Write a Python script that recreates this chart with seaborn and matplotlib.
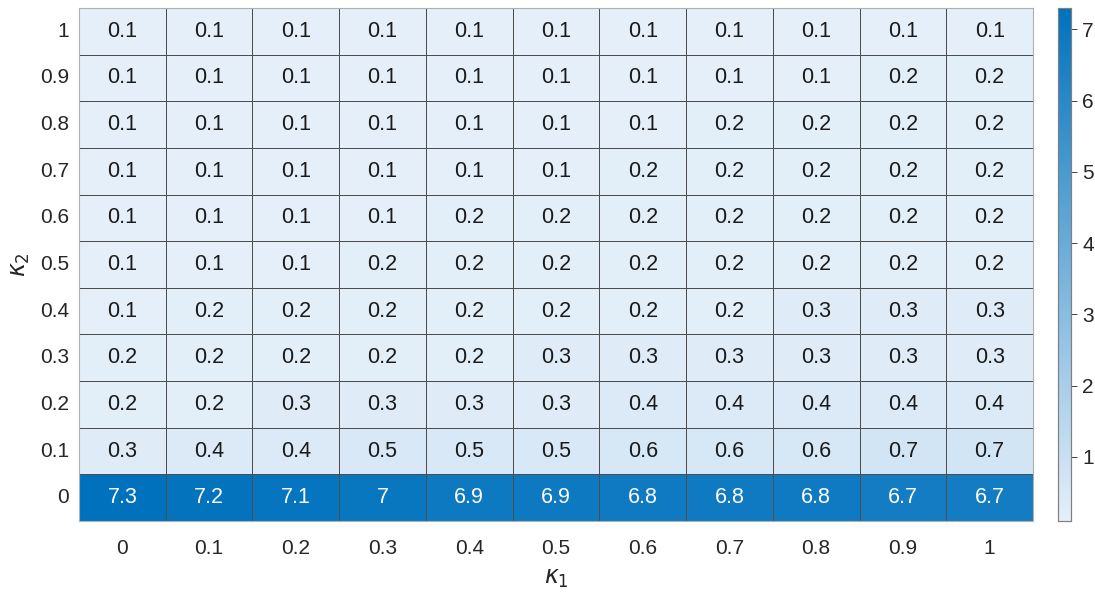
import numpy as np
import pandas as pd
import matplotlib
matplotlib.use("Agg")
import matplotlib.pyplot as plt
from matplotlib.colors import LinearSegmentedColormap
import seaborn as sns

kappa1 = ["0", "0.1", "0.2", "0.3", "0.4", "0.5", "0.6", "0.7", "0.8", "0.9", "1"]
kappa2 = ["1", "0.9", "0.8", "0.7", "0.6", "0.5", "0.4", "0.3", "0.2", "0.1", "0"]

row_k2_1 = [0.1, 0.1, 0.1, 0.1, 0.1, 0.1, 0.1, 0.1, 0.1, 0.1, 0.1]
row_k2_09 = [0.1, 0.1, 0.1, 0.1, 0.1, 0.1, 0.1, 0.1, 0.1, 0.2, 0.2]
row_k2_08 = [0.1, 0.1, 0.1, 0.1, 0.1, 0.1, 0.1, 0.2, 0.2, 0.2, 0.2]
row_k2_07 = [0.1, 0.1, 0.1, 0.1, 0.1, 0.1, 0.2, 0.2, 0.2, 0.2, 0.2]
row_k2_06 = [0.1, 0.1, 0.1, 0.1, 0.2, 0.2, 0.2, 0.2, 0.2, 0.2, 0.2]
row_k2_05 = [0.1, 0.1, 0.1, 0.2, 0.2, 0.2, 0.2, 0.2, 0.2, 0.2, 0.2]
row_k2_04 = [0.1, 0.2, 0.2, 0.2, 0.2, 0.2, 0.2, 0.2, 0.3, 0.3, 0.3]
row_k2_03 = [0.2, 0.2, 0.2, 0.2, 0.2, 0.3, 0.3, 0.3, 0.3, 0.3, 0.3]
row_k2_02 = [0.2, 0.2, 0.3, 0.3, 0.3, 0.3, 0.4, 0.4, 0.4, 0.4, 0.4]
row_k2_01 = [0.3, 0.4, 0.4, 0.5, 0.5, 0.5, 0.6, 0.6, 0.6, 0.7, 0.7]
row_k2_0 = [7.3, 7.2, 7.1, 7.0, 6.9, 6.9, 6.8, 6.8, 6.8, 6.7, 6.7]

rows = [row_k2_1, row_k2_09, row_k2_08, row_k2_07, row_k2_06, row_k2_05,
        row_k2_04, row_k2_03, row_k2_02, row_k2_01, row_k2_0]
df = pd.DataFrame(rows, index=kappa2, columns=kappa1)
labels = df.map(lambda v: f"{v:g}")

sns.set_theme(style="white")
plt.rcParams['font.family'] = ['Liberation Sans', 'DejaVu Sans']
plt.rcParams['mathtext.fontset'] = 'dejavusans'

cmap = LinearSegmentedColormap.from_list("mblue", ["#E5EFF9", "#0072BD"])

fig = plt.figure(figsize=(10.95, 5.99), dpi=100)
W, H = 1095, 599
ax = fig.add_axes([79 / W, 1 - 521 / H, (1033 - 79) / W, (521 - 8) / H])
cax = fig.add_axes([1058 / W, 1 - 521 / H, (1071 - 1058) / W, (521 - 8) / H])

sns.heatmap(df, ax=ax, cbar_ax=cax, cmap=cmap, vmin=0.1, vmax=7.3,
            annot=labels, fmt="", linewidths=0.6, linecolor="#4d4d4d",
            annot_kws={"fontsize": 15.5})

for t in ax.texts:
    val = float(t.get_text())
    t.set_color("white" if val > 3.5 else "#1a1a1a")

ax.tick_params(axis="both", length=0, labelsize=15, colors="#262626")
ax.tick_params(axis="x", pad=13)
ax.tick_params(axis="y", pad=7)
ax.set_yticklabels(kappa2, rotation=0)
ax.set_xticklabels(kappa1, rotation=0)
ax.set_xlabel(r"$\kappa_1$", fontsize=17, color="#262626", labelpad=7)
ax.set_ylabel(r"$\kappa_2$", fontsize=17, color="#262626", labelpad=6)
for s in ax.spines.values():
    s.set_visible(True)
    s.set_color("#b0b0b0")
    s.set_linewidth(0.8)

cax.tick_params(labelsize=15, colors="#262626", length=4, width=0.6, direction="out", right=True, pad=4)
cax.set_yticks([1, 2, 3, 4, 5, 6, 7])
for s in cax.spines.values():
    s.set_visible(True)
    s.set_color("#808080")
    s.set_linewidth(0.8)

fig.savefig("out.png", dpi=100)
